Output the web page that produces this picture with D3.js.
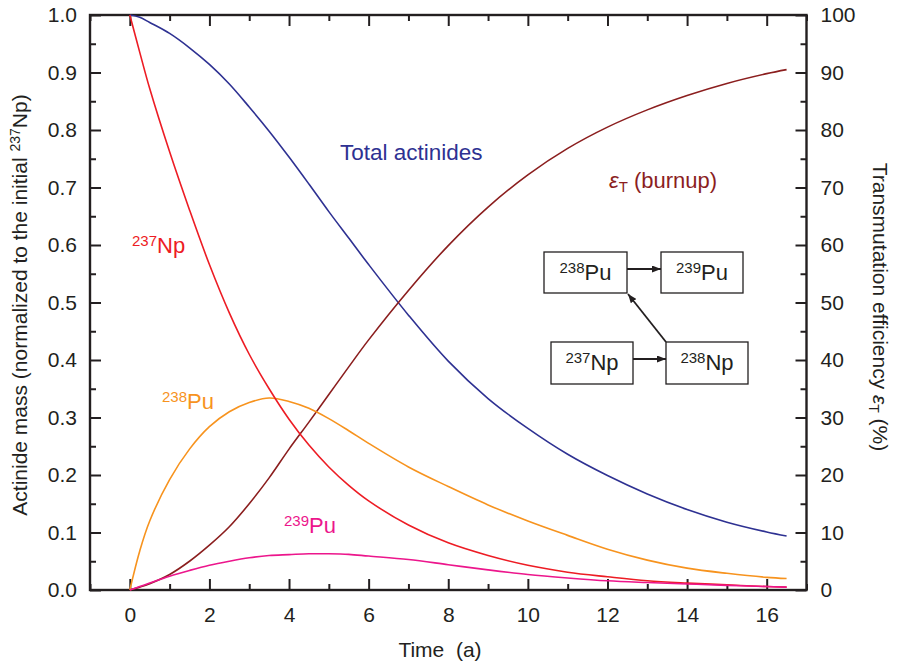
<!DOCTYPE html>
<html>
<head>
<meta charset="utf-8">
<script src="https://cdn.jsdelivr.net/npm/d3@7"></script>
<style>
	body { margin: 0; background: #fff; }
	text { font-family: "Liberation Sans", Arial, Helvetica, sans-serif; }
</style>
</head>
<body>
<svg id="chart" width="897" height="665"></svg>
<script>
// values
var time   = [0, 0.25, 0.5, 1, 1.5, 2, 2.5, 3, 3.5, 4, 4.5, 5, 5.5, 6, 7, 8, 9, 10, 11, 12, 13, 14, 15, 16, 16.5];
var np237  = [1.0, 0.935, 0.872, 0.762, 0.661, 0.566, 0.482, 0.41, 0.35, 0.297, 0.252, 0.214, 0.182, 0.155, 0.113, 0.082, 0.06, 0.043, 0.031, 0.023, 0.016, 0.012, 0.009, 0.006, 0.005];
var pu238  = [0, 0.068, 0.12, 0.192, 0.245, 0.284, 0.31, 0.326, 0.334, 0.328, 0.316, 0.298, 0.277, 0.255, 0.214, 0.18, 0.148, 0.12, 0.095, 0.071, 0.052, 0.038, 0.029, 0.022, 0.02];
var pu239  = [0, 0.006, 0.012, 0.024, 0.034, 0.043, 0.05, 0.056, 0.06, 0.0615, 0.063, 0.063, 0.062, 0.059, 0.053, 0.044, 0.035, 0.027, 0.021, 0.016, 0.013, 0.0105, 0.008, 0.006, 0.005];
var total  = [1.0, 0.996, 0.987, 0.968, 0.943, 0.914, 0.88, 0.84, 0.798, 0.753, 0.706, 0.658, 0.612, 0.566, 0.478, 0.398, 0.333, 0.281, 0.236, 0.199, 0.167, 0.14, 0.118, 0.101, 0.094];
var burnup = [0, 0.5, 1.1, 2.7, 5, 7.8, 11, 15, 19.5, 24.5, 29.2, 34, 38.8, 43.5, 52.1, 59.9, 66.6, 72.2, 76.8, 80.5, 83.5, 86, 88.1, 89.8, 90.5];

var xMajor = [0, 2, 4, 6, 8, 10, 12, 14, 16];
var xMinor = [-1, 1, 3, 5, 7, 9, 11, 13, 15, 17];
var yMajor = [0, 0.1, 0.2, 0.3, 0.4, 0.5, 0.6, 0.7, 0.8, 0.9, 1.0];
var yMinor = [0.05, 0.15, 0.25, 0.35, 0.45, 0.55, 0.65, 0.75, 0.85, 0.95];
var y2Major = [0, 10, 20, 30, 40, 50, 60, 70, 80, 90, 100];
var y2Minor = [5, 15, 25, 35, 45, 55, 65, 75, 85, 95];

var ink = "#231f20";
var colors = {
	np237: "#ed1c24",
	pu238: "#f7931e",
	pu239: "#ec168c",
	total: "#2e3192",
	burnup: "#8b1e1e"
};

var plotLeft = 90, plotRight = 806.5, plotTop = 15, plotBottom = 590;

var svg = d3.select("#chart");

var x = d3.scaleLinear().domain([-1, 17]).range([plotLeft, plotRight]);
var y = d3.scaleLinear().domain([0, 1]).range([plotBottom, plotTop]);
var y2 = d3.scaleLinear().domain([0, 100]).range([plotBottom, plotTop]);

function styleAxis(g) {
	g.select(".domain").remove();
	g.selectAll(".tick line").attr("stroke", ink).attr("stroke-width", 2);
	g.selectAll(".tick text").attr("fill", ink).attr("font-size", 21);
}

// bottom
svg.append("g")
	.attr("transform", "translate(0," + plotBottom + ")")
	.call(d3.axisBottom(x).tickValues(xMajor).tickSize(-11).tickPadding(17).tickFormat(d3.format("d")))
	.call(styleAxis);
svg.append("g")
	.attr("transform", "translate(0," + plotBottom + ")")
	.call(d3.axisBottom(x).tickValues(xMinor).tickSize(-6).tickFormat(""))
	.call(styleAxis);
// top
svg.append("g")
	.attr("transform", "translate(0," + plotTop + ")")
	.call(d3.axisTop(x).tickValues(xMajor).tickSize(-11).tickFormat(""))
	.call(styleAxis);
svg.append("g")
	.attr("transform", "translate(0," + plotTop + ")")
	.call(d3.axisTop(x).tickValues(xMinor).tickSize(-6).tickFormat(""))
	.call(styleAxis);
// left
svg.append("g")
	.attr("transform", "translate(" + plotLeft + ",0)")
	.call(d3.axisLeft(y).tickValues(yMajor).tickSize(-11).tickPadding(13).tickFormat(d3.format(".1f")))
	.call(styleAxis);
svg.append("g")
	.attr("transform", "translate(" + plotLeft + ",0)")
	.call(d3.axisLeft(y).tickValues(yMinor).tickSize(-6).tickFormat(""))
	.call(styleAxis);
// right
svg.append("g")
	.attr("transform", "translate(" + plotRight + ",0)")
	.call(d3.axisRight(y2).tickValues(y2Major).tickSize(-11).tickPadding(14).tickFormat(d3.format("d")))
	.call(styleAxis);
svg.append("g")
	.attr("transform", "translate(" + plotRight + ",0)")
	.call(d3.axisRight(y2).tickValues(y2Minor).tickSize(-6).tickFormat(""))
	.call(styleAxis);

svg.append("rect")
	.attr("x", plotLeft)
	.attr("y", plotTop)
	.attr("width", plotRight - plotLeft)
	.attr("height", plotBottom - plotTop)
	.attr("fill", "none")
	.attr("stroke", ink)
	.attr("stroke-width", 2.4);

// curves
var line = d3.line()
	.x(function(d) { return x(d[0]); })
	.y(function(d) { return d[2](d[1]); })
	.curve(d3.curveCatmullRom.alpha(0.5));

var series = [
	{ name: "total", values: total, scale: y },
	{ name: "burnup", values: burnup, scale: y2 },
	{ name: "pu238", values: pu238, scale: y },
	{ name: "np237", values: np237, scale: y },
	{ name: "pu239", values: pu239, scale: y }
];

svg.selectAll(".curve")
	.data(series)
	.enter().append("path")
		.attr("class", "curve")
		.attr("fill", "none")
		.attr("stroke", function(d) { return colors[d.name]; })
		.attr("stroke-width", 1.6)
		.attr("d", function(d) {
			return line(time.map(function(t, i) { return [t, d.values[i], d.scale]; }));
		});

// isotope label with a superscript mass number
function isotope(g, sup, base, px, py, color, anchor) {
	var t = g.append("text")
		.attr("x", px)
		.attr("y", py)
		.attr("fill", color)
		.attr("font-size", 22)
		.attr("text-anchor", anchor || "start");
	t.append("tspan").attr("font-size", 15).attr("dy", -7).text(sup);
	t.append("tspan").attr("dy", 7).text(base);
	return t;
}

svg.append("text")
	.attr("x", 340)
	.attr("y", 160)
	.attr("fill", colors.total)
	.attr("font-size", 22.5)
	.text("Total actinides");

isotope(svg, "237", "Np", 132, 253, colors.np237);
isotope(svg, "238", "Pu", 162, 409, colors.pu238);
isotope(svg, "239", "Pu", 284, 533, colors.pu239);

var eps = svg.append("text")
	.attr("x", 609)
	.attr("y", 188)
	.attr("fill", colors.burnup)
	.attr("font-size", 22);
eps.append("tspan").attr("font-style", "italic").text("ε");
eps.append("tspan").attr("font-size", 15).attr("dy", 4).text("T");
eps.append("tspan").attr("dy", -4).text(" (burnup)");

// axis titles
svg.append("text")
	.attr("x", 440)
	.attr("y", 657)
	.attr("text-anchor", "middle")
	.attr("fill", ink)
	.attr("font-size", 21)
	.attr("xml:space", "preserve")
	.text("Time  (a)");

var lt = svg.append("text")
	.attr("transform", "translate(27,305) rotate(-90)")
	.attr("text-anchor", "middle")
	.attr("fill", ink)
	.attr("font-size", 21);
lt.append("tspan").text("Actinide mass (normalized to the initial ");
lt.append("tspan").attr("font-size", 14).attr("dy", -7).text("237");
lt.append("tspan").attr("dy", 7).text("Np)");

var rt = svg.append("text")
	.attr("transform", "translate(873,307) rotate(90)")
	.attr("text-anchor", "middle")
	.attr("fill", ink)
	.attr("font-size", 21);
rt.append("tspan").text("Transmutation efficiency ");
rt.append("tspan").attr("font-style", "italic").text("ε");
rt.append("tspan").attr("font-size", 14).attr("dy", 4).text("T");
rt.append("tspan").attr("dy", -4).text(" (%)");

// inset: decay chain
var boxes = [
	{ sup: "238", base: "Pu", x: 544, y: 252, w: 83, h: 41 },
	{ sup: "239", base: "Pu", x: 661, y: 252, w: 82, h: 41 },
	{ sup: "237", base: "Np", x: 551, y: 342, w: 82, h: 42 },
	{ sup: "238", base: "Np", x: 666, y: 342, w: 82, h: 42 }
];
var arrows = [
	[627, 269, 661, 269],
	[633, 359, 666, 359],
	[666, 342, 628, 294]
];

svg.append("defs").append("marker")
	.attr("id", "head")
	.attr("markerUnits", "userSpaceOnUse")
	.attr("markerWidth", 9)
	.attr("markerHeight", 7)
	.attr("refX", 9)
	.attr("refY", 3.5)
	.attr("orient", "auto")
	.append("path")
		.attr("d", "M0,0 L9,3.5 L0,7 z")
		.attr("fill", ink);

var inset = svg.append("g");
inset.selectAll("rect")
	.data(boxes)
	.enter().append("rect")
		.attr("x", function(d) { return d.x; })
		.attr("y", function(d) { return d.y; })
		.attr("width", function(d) { return d.w; })
		.attr("height", function(d) { return d.h; })
		.attr("fill", "#fff")
		.attr("stroke", ink)
		.attr("stroke-width", 1.3);
boxes.forEach(function(b) {
	isotope(inset, b.sup, b.base, b.x + b.w / 2, b.y + b.h / 2 + 7, ink, "middle");
});
inset.selectAll("line")
	.data(arrows)
	.enter().append("line")
		.attr("x1", function(d) { return d[0]; })
		.attr("y1", function(d) { return d[1]; })
		.attr("x2", function(d) { return d[2]; })
		.attr("y2", function(d) { return d[3]; })
		.attr("stroke", ink)
		.attr("stroke-width", 1.8)
		.attr("marker-end", "url(#head)");
</script>
</body>
</html>
